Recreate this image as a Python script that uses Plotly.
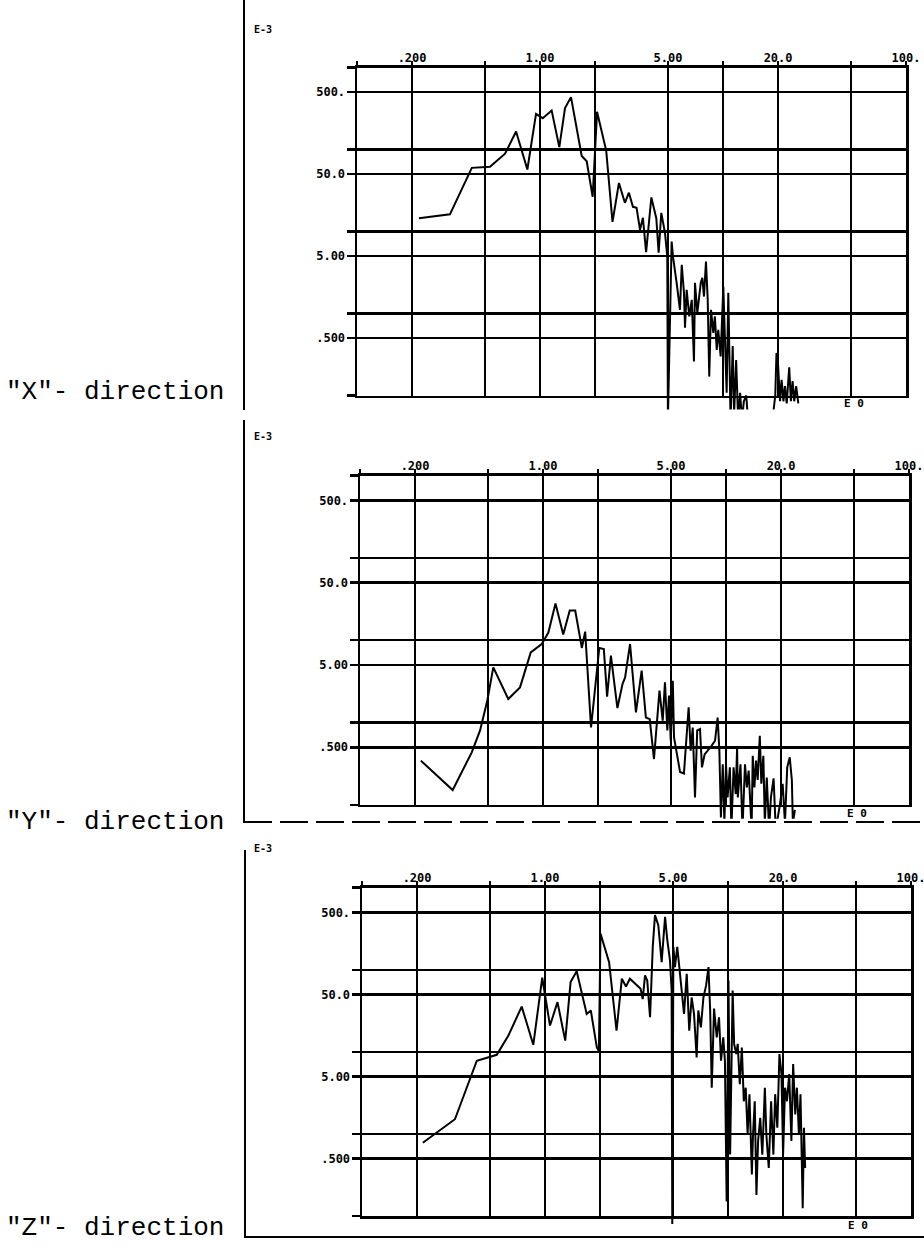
import plotly.graph_objects as go

W, H = 924, 1247

# ---------------- data: amplitude spectra (amplitude in units of 1E-3, frequency in Hz) -------------
x_freq = [0.218, 0.322, 0.424, 0.533, 0.644, 0.740, 0.853, 0.951, 1.035, 1.158, 1.275, 1.370, 1.477,
          1.69, 1.80, 1.94, 2.05, 2.30, 2.49, 2.70, 2.91, 3.06, 3.22, 3.37, 3.52, 3.65, 3.80, 4.06,
          4.32, 4.45, 4.60, 4.82, 4.96, 5.00, 5.24, 5.33, 5.58, 5.82, 5.95, 6.12, 6.20, 6.33, 6.54,
          6.75, 6.94, 7.03, 7.24, 7.42, 7.56, 7.71, 7.87, 8.07, 8.25, 8.41, 8.60, 8.85, 9.03, 9.24,
          9.42, 9.71, 10.04, 10.25, 10.47, 10.69, 10.82, 11.0, 11.3, 11.5, 11.8, 12.1, 12.4, 12.7,
          13.0, 13.4, 13.7, 16.3, 18.8, 19.3, 19.6, 19.9, 20.5, 20.9, 21.4, 21.8, 22.3, 23.0, 23.5,
          24.0, 24.5, 25.1, 25.8]
x_amp = [14.5, 16.2, 59.7, 61.4, 89, 166, 57, 272, 241, 299, 107, 320, 435,
         83.5, 71.8, 26.5, 288, 97, 13.1, 39, 22.4, 29.7, 20, 19.5, 10.5, 14.7, 5.6, 26,
         14.5, 5.5, 16.9, 9.6, 4.95, 0.05, 7.55, 4.95, 2.37, 1.11, 3.93, 1.79, 0.67, 1.94, 0.92,
         1.47, 0.26, 2.37, 1.02, 1.61, 2.37, 2.72, 1.61, 4.3, 1.47, 0.17, 1.11, 0.58, 0.92, 0.36,
         0.63, 0.30, 2.13, 0.48, 0.108, 1.79, 0.36, 0.05, 0.40, 0.06, 0.27, 0.05, 0.108, 0.05,
         0.085, 0.1, 0.05, 0.05, 0.06, 0.1, 0.33, 0.29, 0.085, 0.155, 0.085, 0.13, 0.08, 0.22, 0.085,
         0.15, 0.085, 0.13, 0.08]

y_freq = [0.215, 0.321, 0.408, 0.453, 0.496, 0.535, 0.646, 0.749, 0.857, 0.984, 1.07, 1.17, 1.29,
          1.40, 1.50, 1.63, 1.70, 1.83, 2.03, 2.15, 2.24, 2.35, 2.55, 2.72, 2.81, 2.99, 3.22, 3.46,
          3.65, 3.83, 4.04, 4.33, 4.51, 4.64, 4.78, 4.88, 4.99, 5.12, 5.20, 5.38, 5.61, 5.89, 6.10,
          6.25, 6.41, 6.58, 6.77, 6.96, 7.21, 7.39, 7.64, 7.97, 8.33, 8.71, 9.0, 9.2, 9.38, 9.6, 9.8,
          10.0, 10.2, 10.5, 10.7, 11.0, 11.3, 11.5, 11.6, 12.0, 12.3, 12.7, 13.0, 13.3, 13.8, 14.0,
          14.3, 14.6, 14.9, 15.3, 15.6, 16.0, 16.3, 16.7, 17.2, 17.6, 18.2, 18.7, 19.2, 19.7, 20.4,
          21.0, 21.6, 22.3, 22.9, 23.2, 23.8]
y_amp = [0.344, 0.151, 0.434, 0.80, 1.84, 4.68, 1.93, 2.67, 7.1, 9.0, 12.4, 28, 11.7,
         22.9, 22.9, 8.05, 12.7, 0.87, 8.05, 7.8, 2.06, 6.5, 1.50, 2.94, 3.53, 9.0, 1.33, 4.26,
         1.15, 1.10, 0.36, 2.44, 1.05, 3.07, 0.80, 2.12, 0.60, 3.22, 0.66, 0.41, 0.25, 0.24, 0.66,
         1.53, 0.455, 0.87, 0.123, 0.80, 0.83, 0.285, 0.41, 0.455, 0.52, 0.60, 1.15, 0.455, 0.07, 0.31,
         0.06, 0.31, 0.123, 0.285, 0.05, 0.285, 0.135, 0.50, 0.123, 0.31, 0.05, 0.31, 0.163, 0.26,
         0.05, 0.395, 0.163, 0.344, 0.2, 0.69, 0.18, 0.395, 0.06, 0.215, 0.05, 0.123, 0.21, 0.05,
         0.07, 0.1, 0.18, 0.06, 0.285, 0.377, 0.2, 0.06, 0.087]

z_freq = [0.215, 0.256, 0.322, 0.424, 0.50, 0.545, 0.63, 0.746, 0.863, 0.966, 1.065, 1.17, 1.29,
          1.38, 1.49, 1.69, 1.78, 1.92, 1.97, 2.01, 2.24, 2.46, 2.63, 2.77, 2.91, 2.98, 3.17, 3.33,
          3.42, 3.52, 3.62, 3.75, 3.88, 3.99, 4.16, 4.34, 4.53, 4.66, 4.82, 4.92, 4.96, 5.03, 5.13,
          5.28, 5.42, 5.59, 5.75, 5.95, 6.14, 6.33, 6.52, 6.74, 6.88, 7.11, 7.34, 7.59, 7.82, 7.99,
          8.15, 8.39, 8.68, 8.93, 9.16, 9.42, 9.62, 9.83, 10.06, 10.27, 10.6, 10.8, 11.1, 11.3, 11.6,
          11.9, 12.2, 12.5, 12.8, 13.1, 13.5, 13.7, 14.0, 14.3, 14.6, 15.0, 15.4, 15.9, 16.2, 16.7,
          17.2, 17.7, 18.1, 18.6, 19.1, 19.6, 20.0, 20.5, 21.0, 21.6, 22.2, 22.7, 23.3, 23.8, 24.4,
          24.9, 25.6, 26.0, 26.4]
z_amp = [0.78, 1.03, 1.51, 7.8, 8.7, 9.2, 15.7, 35.6, 12.2, 80, 20.9, 40.3, 13.7,
         70.8, 96, 29, 31.9, 11.3, 10.2, 277, 124, 18.1, 77.8, 62.6, 77.8, 74, 64, 58.7,
         44, 85.5, 74, 26.4, 190, 463, 350, 124, 442, 229, 130, 56, 0.08, 190, 108,
         190, 108, 51, 29, 89.5, 18.1, 46, 29, 8.55, 31.9, 19.9, 46, 64, 108, 31.9,
         3.66, 33.7, 15.0, 26.4, 7.8, 15.0, 7.8, 0.15, 74, 0.56, 56, 12.5, 9.4, 12.5, 4.03,
         11.3, 2.5, 3.66, 0.99, 3.05, 0.32, 0.99, 2.5, 0.18, 0.82, 1.57, 0.56, 3.66, 0.99, 0.385,
         2.5, 0.56, 3.05, 1.19, 9.4, 5.35, 0.56, 3.66, 2.5, 5.35, 0.82, 7.1, 1.73, 3.66, 0.99,
         3.05, 0.124, 1.19, 0.385]

direction_labels = ['"X"- direction', '"Y"- direction', '"Z"- direction']

x_tick_vals = [0.1, 0.2, 0.5, 1, 2, 5, 10, 20, 50, 100]
x_tick_text = ["", ".200", "", "1.00", "", "5.00", "", "20.0", "", "100."]
y_tick_vals = [0.1, 0.5, 1, 5, 10, 50, 100, 500, 1000]
y_tick_text = ["", ".500", "", "5.00", "", "50.0", "", "500.", ""]
y_exponent = "E-3"
x_exponent = "E 0"

# ---------------- layout geometry (pixels on the page) ----------------
frames = [
    dict(left=357, right=906, top=67.5, bottom=395.5, label_y=392, exp_y=29, e0=(854, 404)),
    dict(left=360, right=909, top=475.6, bottom=804.8, label_y=822, exp_y=437, e0=(857, 813)),
    dict(left=362, right=911, top=887.7, bottom=1216.0, label_y=1228, exp_y=848, e0=(858, 1225)),
]
DROP = 14          # traces may hang this many px below the frame
X_RANGE = [-1, 2]  # log10 of 0.1 .. 100 Hz
Y_RANGE = [-1, 3]  # log10 of 0.1 .. 1000 (x1E-3)
RULE = 2.5         # pen width of the plotter grid

PLOT_FONT = dict(family="DejaVu Sans Mono", size=12, color="black", weight="bold")


def px_x(px):
    return px / W


def px_y(py):
    return 1 - py / H


series = [(x_freq, x_amp), (y_freq, y_amp), (z_freq, z_amp)]
fig = go.Figure()
layout_axes = {}
annotations = []
shapes = []

for i, (fr, (freq, amp)) in enumerate(zip(frames, series)):
    g = i + 1        # grid subplot
    d = i + 4        # data subplot
    gx = "xaxis" if g == 1 else f"xaxis{g}"
    gy = "yaxis" if g == 1 else f"yaxis{g}"
    gx_ref = "x" if g == 1 else f"x{g}"
    gy_ref = "y" if g == 1 else f"y{g}"
    xdom = [px_x(fr["left"]), px_x(fr["right"])]
    ydom = [px_y(fr["bottom"]), px_y(fr["top"])]

    layout_axes[gx] = dict(
        type="log", range=X_RANGE, domain=xdom, anchor=gy_ref, automargin=False,
        side="top", tickmode="array", tickvals=x_tick_vals, ticktext=x_tick_text,
        ticks="outside", ticklen=4, tickwidth=RULE, tickcolor="black",
        ticklabelstandoff=-6, ticklabeloverflow="allow",
        showgrid=True, gridcolor="black", gridwidth=RULE,
        showline=True, linecolor="black", linewidth=RULE, mirror=True,
        zeroline=False, tickfont=PLOT_FONT, fixedrange=True,
    )
    layout_axes[gy] = dict(
        type="log", range=Y_RANGE, domain=ydom, anchor=gx_ref, automargin=False,
        tickmode="array", tickvals=y_tick_vals, ticktext=y_tick_text,
        ticks="outside", ticklen=8, tickwidth=RULE, tickcolor="black",
        ticklabelstandoff=-1, ticklabeloverflow="allow",
        showgrid=True, gridcolor="black", gridwidth=RULE,
        showline=True, linecolor="black", linewidth=RULE, mirror=True,
        zeroline=False, tickfont=PLOT_FONT, fixedrange=True,
    )
    # empty trace so the gridded frame is created
    fig.add_trace(go.Scatter(x=[], y=[], mode="lines", xaxis=gx_ref, yaxis=gy_ref,
                             showlegend=False, hoverinfo="skip"))

    # data subplot: same frame, extended a little downwards so dips run past the bottom edge
    ppd = (fr["bottom"] - fr["top"]) / (Y_RANGE[1] - Y_RANGE[0])
    layout_axes[f"xaxis{d}"] = dict(type="log", range=X_RANGE, domain=xdom, anchor=f"y{d}",
                                    visible=False, fixedrange=True, automargin=False)
    layout_axes[f"yaxis{d}"] = dict(type="log", range=[Y_RANGE[0] - DROP / ppd, Y_RANGE[1]],
                                    domain=[px_y(fr["bottom"] + DROP), px_y(fr["top"])],
                                    anchor=f"x{d}", visible=False, fixedrange=True, automargin=False)

    fig.add_trace(go.Scatter(
        x=freq, y=amp, mode="lines", line=dict(color="black", width=2),
        xaxis=f"x{d}", yaxis=f"y{d}", showlegend=False, hoverinfo="skip",
    ))

    annotations.append(dict(text=y_exponent, x=px_x(263), y=px_y(fr["exp_y"]), xref="paper", yref="paper",
                            showarrow=False, font=dict(PLOT_FONT, size=10), xanchor="center", yanchor="middle"))
    annotations.append(dict(text=x_exponent, x=px_x(fr["e0"][0]), y=px_y(fr["e0"][1]), xref="paper",
                            yref="paper", showarrow=False, font=dict(PLOT_FONT, size=11),
                            xanchor="center", yanchor="middle"))
    annotations.append(dict(text=direction_labels[i], x=px_x(4), y=px_y(fr["label_y"]), xref="paper",
                            yref="paper", showarrow=False, xanchor="left", yanchor="middle",
                            font=dict(family="Liberation Mono", size=26, color="black")))

# page frame lines at the left edge and under the lower panels
for x0, y0, x1, y1, dash in [
    (244, 0, 244, 410, "solid"),
    (244, 420, 244, 823, "solid"),
    (245, 850, 245, 1237, "solid"),
    (244, 822, 924, 822, "28px,8px"),
    (244, 1237, 924, 1237, "solid"),
]:
    shapes.append(dict(type="line", xref="paper", yref="paper",
                       x0=px_x(x0), y0=px_y(y0), x1=px_x(x1), y1=px_y(y1),
                       line=dict(color="black", width=2, dash=dash)))

fig.update_layout(
    template="none",
    width=W, height=H, autosize=False,
    margin=dict(l=0, r=0, t=0, b=0, pad=0),
    paper_bgcolor="white", plot_bgcolor="rgba(0,0,0,0)",
    showlegend=False, annotations=annotations, shapes=shapes,
    **layout_axes,
)

fig.write_html("out.html", config={"displayModeBar": False, "staticPlot": True, "responsive": False})
